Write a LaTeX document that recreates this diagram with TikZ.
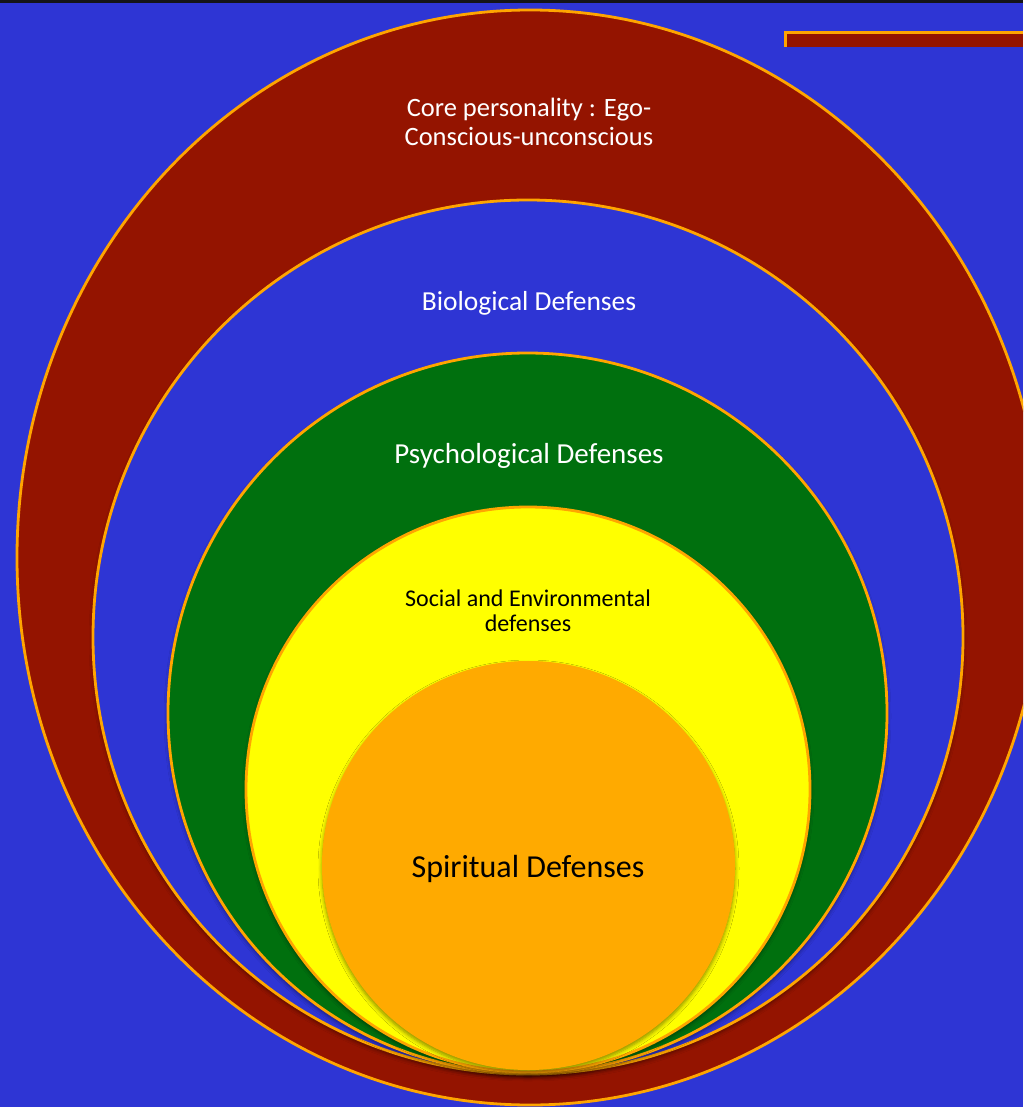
\documentclass[tikz,border=0pt]{standalone}
\usepackage{fontspec}
\setmainfont{Carlito}
\usetikzlibrary{shadows.blur}
\definecolor{bgblue}{HTML}{2E35D4}
\definecolor{corered}{HTML}{941400}
\definecolor{rimorange}{HTML}{FFA500}
\definecolor{psygreen}{HTML}{00700E}
\definecolor{socyellow}{HTML}{FFFF00}
\definecolor{spirorange}{HTML}{FFAA00}
\definecolor{topstrip}{HTML}{141418}
\begin{document}
\begin{tikzpicture}[x=1pt,y=-1pt,
  layer/.style={draw=rimorange,line width=2.8pt},
  soft/.style={blur shadow={shadow xshift=0pt,shadow yshift=-3pt,shadow blur steps=6,shadow blur radius=4pt,shadow opacity=45}},
  lbl/.style={align=center,inner sep=0pt,text=white}]
\useasboundingbox (0,0) rectangle (1023,1107);
\fill[bgblue] (0,0) rectangle (1023,1107);
\fill[topstrip] (0,0) rectangle (1023,3);
% corner bar
\fill[corered] (785,32) rectangle (1023,47);
\draw[rimorange,line width=2.6pt] (785.3,47) -- (785.3,32.3) -- (1023,32.3);
% nested layers
\begin{scope}
\clip (0,3) rectangle (1023,1107);
\path[layer,fill=corered] (530,557.5) ellipse [x radius=513,y radius=547.5];
\end{scope}
\path[layer,fill=bgblue,soft] (528,637) ellipse [x radius=435,y radius=437];
\path[layer,fill=psygreen,soft] (527.5,713) ellipse [x radius=359.5,y radius=360];
\path[layer,fill=socyellow,soft] (528,789.5) ellipse [x radius=282,y radius=282.5];
\path[fill=spirorange,soft] (528.5,865.5) ellipse [x radius=206.5,y radius=204.5];
% labels
\node[lbl,font=\fontsize{26.5}{29}\selectfont] (core) at (529,122) {Core personality : Ego-\\Conscious-unconscious};
\node[lbl,font=\fontsize{27.5}{29}\selectfont] (bio) at (529,303) {Biological Defenses};
\node[lbl,font=\fontsize{29}{29}\selectfont] (psy) at (529,456) {Psychological Defenses};
\node[lbl,text=black,font=\fontsize{24}{25}\selectfont] (soc) at (528,611) {Social and Environmental\\defenses};
\node[lbl,text=black,font=\fontsize{32}{34}\selectfont] (spir) at (528,869) {Spiritual Defenses};
\end{tikzpicture}
\end{document}
